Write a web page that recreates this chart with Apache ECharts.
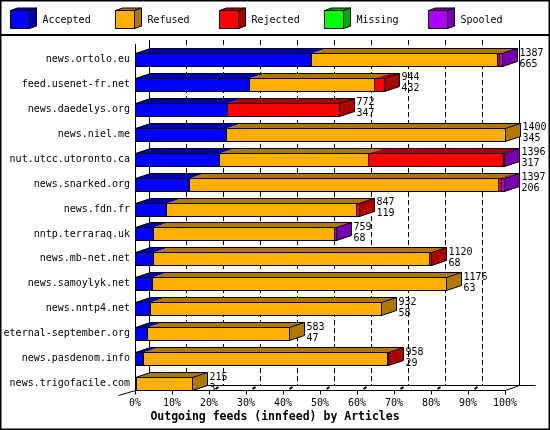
<!DOCTYPE html>
<html><head><meta charset="utf-8">
<script src="https://cdn.jsdelivr.net/npm/echarts@6/dist/echarts.min.js"></script>
<style>html,body{margin:0;padding:0;background:#fff}#c{width:550px;height:430px}</style>
</head><body><div id="c"></div>
<script>
const categories = ['news.ortolo.eu','feed.usenet-fr.net','news.daedelys.org','news.niel.me','nut.utcc.utoronto.ca','news.snarked.org','news.fdn.fr','nntp.terraraq.uk','news.mb-net.net','news.samoylyk.net','news.nntp4.net','eternal-september.org','news.pasdenom.info','news.trigofacile.com'];
const accepted = [665,432,347,345,317,206,119,68,68,63,58,47,29,3];
const refused  = [706,473,0,1055,566,1169,716,686,1046,1113,874,536,923,212];
const rejected = [8,39,425,0,509,10,12,0,6,0,0,0,6,0];
const missing  = [0,0,0,0,0,0,0,0,0,0,0,0,0,0];
const spooled  = [8,0,0,0,4,12,0,5,0,0,0,0,0,0];
const seriesNames = ['Accepted','Refused','Rejected','Missing','Spooled'];
const axisTitle = 'Outgoing feeds (innfeed) by Articles';

const FACE = ['#0000FF','#FFAF00','#FF0000','#00FF00','#AF00FF'];
const DARK = ['#0000AF','#AF7800','#AF0000','#00AF00','#7800AF'];
const FONT = 'DejaVu Sans Mono';
const DX = 15, DY = 5;

const totals = categories.map((_, i) => accepted[i] + refused[i] + rejected[i] + missing[i] + spooled[i]);
const maxTotal = Math.max(...totals);
const rows = categories.map((_, i) => [i, accepted[i], refused[i], rejected[i], missing[i], spooled[i]]);

const cr = v => Math.round(v) + 0.5;

function renderBar(params, api) {
  const row = api.value(0);
  const vals = [api.value(1), api.value(2), api.value(3), api.value(4), api.value(5)];
  const cy = api.coord([0, row])[1];
  const top = cr(cy - 6.5), bot = top + 13;
  const x0 = cr(api.coord([0, row])[0]);
  const tops = [], fronts = [];
  let cum = 0, last = 0;
  vals.forEach((v, s) => {
    if (v <= 0) return;
    const xa = cr(api.coord([cum, row])[0]);
    cum += v;
    const xb = cr(api.coord([cum, row])[0]);
    tops.push({type: 'polygon', shape: {points: [[xa, top], [xa + DX, top - DY], [xb + DX, top - DY], [xb, top]]}, style: {fill: DARK[s], stroke: null}});
    fronts.push({type: 'rect', shape: {x: xa, y: top, width: xb - xa, height: bot - top}, style: {fill: FACE[s], stroke: '#000', lineWidth: 1}});
    last = s;
  });
  const xe = cr(api.coord([cum, row])[0]);
  const side = {type: 'polygon', shape: {points: [[xe, top], [xe + DX, top - DY], [xe + DX, bot - DY], [xe, bot]]}, style: {fill: DARK[last], stroke: '#000', lineWidth: 1}};
  const outline = {type: 'polyline', shape: {points: [[x0, top], [x0 + DX, top - DY], [xe + DX, top - DY]]}, style: {fill: null, stroke: '#000', lineWidth: 1}};
  const label = {type: 'text', style: {text: cum + '\n' + vals[0], x: xe + DX + 2, y: cy - 1, verticalAlign: 'middle', align: 'left', font: '10px "' + FONT + '"', lineHeight: 11, fill: '#000'}};
  return {type: 'group', children: tops.concat(fronts, [side, outline, label])};
}

function renderFrame(params, api) {
  const n = categories.length;
  const yLast = api.coord([0, n - 1])[1];
  const fF = cr(yLast + 6.5), fB = fF - DY;
  const topY = 40;
  const ch = [];
  const line = (x1, y1, x2, y2, extra) => ch.push({type: 'line', shape: {x1, y1, x2, y2}, style: Object.assign({stroke: '#000', lineWidth: 1}, extra || {})});
  const xs = [];
  for (let k = 0; k <= 10; k++) xs.push(cr(api.coord([maxTotal * k / 10, 0])[0]));
  xs.forEach((x, k) => {
    if (k === 0 || k === 10) line(x + DX - 1, topY, x + DX - 1, fB);
    else line(x + DX - 1, topY, x + DX - 1, fB, {lineDash: [5, 3]});
  });
  line(xs[0], 44, xs[0], fF);
  line(xs[0], fF, xs[10], fF);
  line(xs[0] + DX - 1, fB, xs[10] + DX + 15, fB);
  line(xs[10], fF, xs[10] + DX - 1, fB);
  line(xs[0] - 17, fF + 5, xs[0], fF);
  xs.forEach((x, k) => {
    line(x, fF, x, fF + 4);
    if (k < 10) line(x + 6, fF - 1.5, x + 9, fF - 3.5, {lineWidth: 2});
  });
  return {type: 'group', children: ch};
}

const legendGraphics = [];
seriesNames.forEach((name, i) => {
  const x = 10.5 + Math.round(104.5 * i), y = 10.5, w = 19, h = 18, dx = 7, dy = 2.5;
  legendGraphics.push({type: 'polygon', shape: {points: [[x, y], [x + dx, y - dy], [x + w + dx, y - dy], [x + w, y]]}, style: {fill: DARK[i], stroke: '#000', lineWidth: 1}});
  legendGraphics.push({type: 'polygon', shape: {points: [[x + w, y], [x + w + dx, y - dy], [x + w + dx, y + h - dy], [x + w, y + h]]}, style: {fill: DARK[i], stroke: '#000', lineWidth: 1}});
  legendGraphics.push({type: 'rect', shape: {x: x, y: y, width: w, height: h}, style: {fill: FACE[i], stroke: '#000', lineWidth: 1}});
  legendGraphics.push({type: 'text', style: {text: name, x: x + 32, y: 20, verticalAlign: 'middle', font: '10px "' + FONT + '"', fill: '#000'}});
});
legendGraphics.push({type: 'rect', shape: {x: 0.75, y: 0.75, width: 548.5, height: 428.5}, style: {fill: null, stroke: '#000', lineWidth: 1.5}, z: 100});
legendGraphics.push({type: 'line', shape: {x1: 0, y1: 35, x2: 550, y2: 35}, style: {stroke: '#000', lineWidth: 2}});

const chart = echarts.init(document.getElementById('c'), null, {renderer: 'canvas'});
chart.setOption({
  animation: false,
  backgroundColor: '#fff',
  title: {text: axisTitle, left: 'center', top: 411, padding: 0, textStyle: {fontFamily: FONT, fontSize: 11.5, fontWeight: 'bold', color: '#000'}},
  grid: {left: 135, width: 370, top: 47, height: 349},
  xAxis: {type: 'value', min: 0, max: maxTotal, interval: maxTotal / 10,
    axisLine: {show: false}, axisTick: {show: false}, splitLine: {show: false},
    axisLabel: {margin: 2.5, formatter: v => Math.round(v / maxTotal * 100) + '%', fontFamily: FONT, fontSize: 10, color: '#000', showMinLabel: true, showMaxLabel: true}},
  yAxis: {type: 'category', data: categories, inverse: true,
    axisLine: {show: false}, axisTick: {show: false}, splitLine: {show: false},
    axisLabel: {margin: 5, fontFamily: FONT, fontSize: 10, color: '#000'}},
  graphic: legendGraphics,
  series: [
    {type: 'custom', name: 'frame', renderItem: renderFrame, data: [[0, 0]], encode: {x: 1, y: 0}, clip: false, z: 1, silent: true},
    {type: 'custom', name: 'bars', renderItem: renderBar, data: rows, dimensions: ['row', ...seriesNames], encode: {y: 0, x: 1}, clip: false, z: 2}
  ]
});
</script></body></html>
